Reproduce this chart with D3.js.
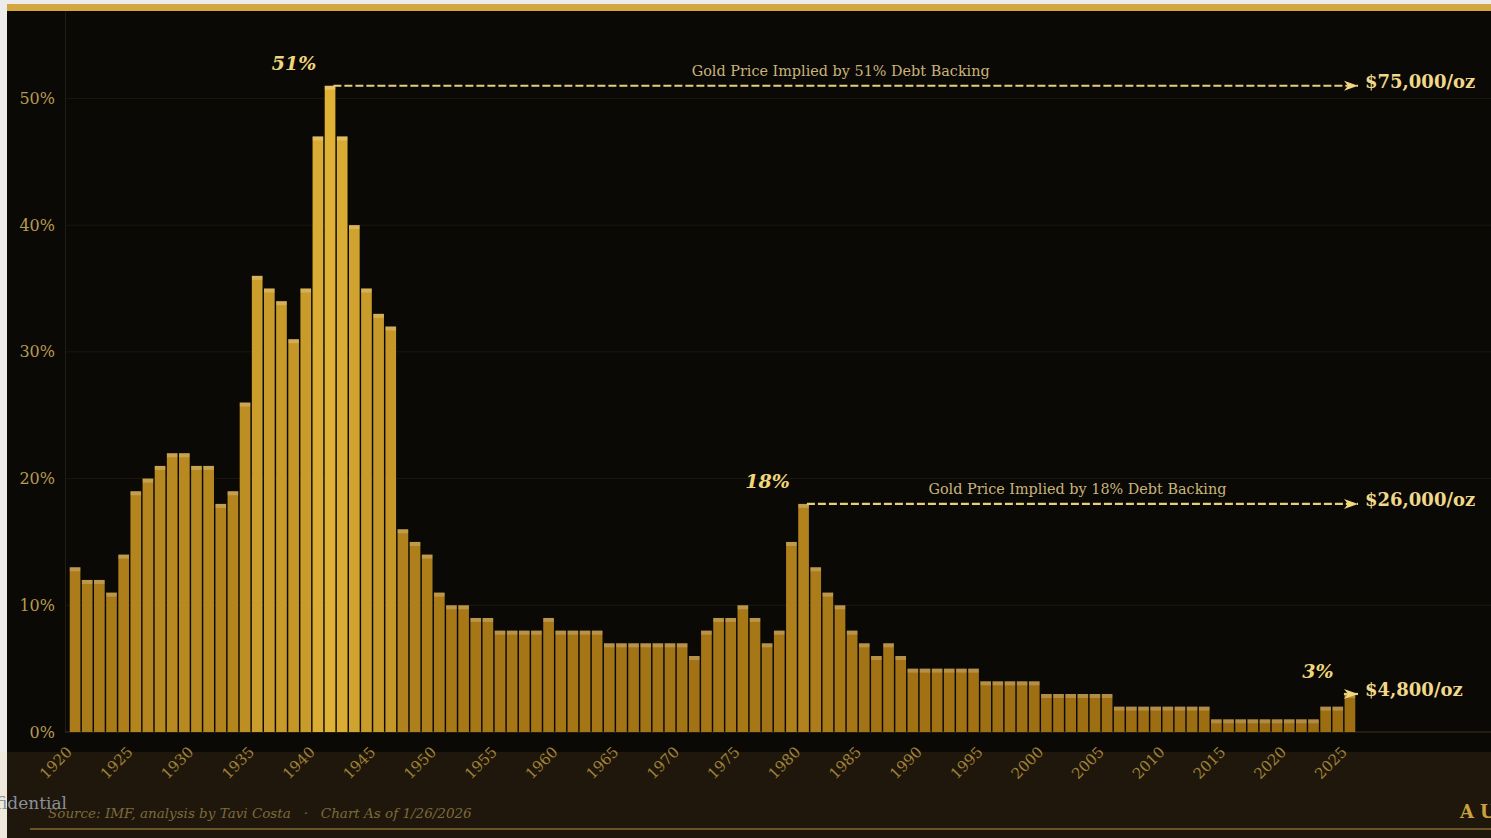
<!DOCTYPE html>
<html>
<head>
<meta charset="utf-8">
<script src="https://cdn.jsdelivr.net/npm/d3@7"></script>
<style>
  body { margin: 0; background: #ececec; overflow: hidden; }
  svg { display: block; }
  text { font-family: "DejaVu Serif", serif; }
</style>
</head>
<body>
<div id="chart"></div>
<script>

// Gold reserves as % of federal debt, 1920 - 2025
var years = d3.range(1920, 2026);
var backing = [
  13, 12, 12, 11, 14, 19, 20, 21, 22, 22,
  21, 21, 18, 19, 26, 36, 35, 34, 31, 35,
  47, 51, 47, 40, 35, 33, 32, 16, 15, 14,
  11, 10, 10, 9, 9, 8, 8, 8, 8, 9,
  8, 8, 8, 8, 7, 7, 7, 7, 7, 7,
  7, 6, 8, 9, 9, 10, 9, 7, 8, 15,
  18, 13, 11, 10, 8, 7, 6, 7, 6, 5,
  5, 5, 5, 5, 5, 4, 4, 4, 4, 4,
  3, 3, 3, 3, 3, 3, 2, 2, 2, 2,
  2, 2, 2, 2, 1, 1, 1, 1, 1, 1,
  1, 1, 1, 2, 2, 3
];
var tickYears = d3.range(1920, 2026, 5);
var yTicks = [0, 10, 20, 30, 40, 50];

// callouts
var calloutYears = [1941, 1980, 2025];
var calloutPrices = ["$75,000/oz", "$26,000/oz", "$4,800/oz"];
var calloutTitles = ["Gold Price Implied by 51% Debt Backing", "Gold Price Implied by 18% Debt Backing", ""];

var svgWidth = 1491;
var svgHeight = 838;

var plot = { left: 65, right: 1491, top: 11, bottom: 732 };

var svg = d3.select("#chart")
  .append("svg")
  .attr("width", svgWidth)
  .attr("height", svgHeight);

var data = years.map(function (y, i) { return { year: y, value: backing[i] }; });

// backgrounds
svg.append("rect").attr("x", 7).attr("y", 4).attr("width", svgWidth - 7).attr("height", 7).attr("fill", "#d4a640");
svg.append("rect").attr("x", 7).attr("y", 11).attr("width", svgWidth - 7).attr("height", 741).attr("fill", "#0a0906");
svg.append("rect").attr("x", 0).attr("y", 752).attr("width", 7).attr("height", 86).attr("fill", "#efe9dc");
svg.append("rect").attr("x", 7).attr("y", 752).attr("width", svgWidth - 7).attr("height", 86).attr("fill", "#1f170b");
svg.append("line")
  .attr("x1", 30).attr("x2", svgWidth)
  .attr("y1", 829).attr("y2", 829)
  .attr("stroke", "#6b5526").attr("stroke-width", 2);

// scales
var xScale = d3.scaleBand()
  .domain(years)
  .range([69, 1356])
  .paddingInner(0.12)
  .paddingOuter(0.06);

var yScale = d3.scaleLinear()
  .domain([0, 56.9])
  .range([plot.bottom, plot.top]);

var barColor = d3.scaleLinear()
  .domain([0, 51])
  .range(["#9a6a10", "#dfb236"]);

// gridlines
svg.append("g")
  .selectAll("line")
  .data(yTicks.slice(1))
  .enter()
  .append("line")
  .attr("x1", plot.left).attr("x2", plot.right)
  .attr("y1", d => yScale(d)).attr("y2", d => yScale(d))
  .attr("stroke", "#1c1810")
  .attr("stroke-width", 1);

// y axis
var leftAxis = d3.axisLeft(yScale)
  .tickValues(yTicks)
  .tickSize(0)
  .tickPadding(10)
  .tickFormat(d => d + "%");

var yAxisG = svg.append("g")
  .attr("transform", `translate(${plot.left}, 0)`)
  .call(leftAxis);
yAxisG.select(".domain").attr("stroke", "#221d12");
yAxisG.selectAll("text")
  .attr("fill", "#b89a50")
  .attr("font-size", 16)
  .attr("font-family", "DejaVu Serif");

// baseline
svg.append("line")
  .attr("x1", plot.left).attr("x2", plot.right)
  .attr("y1", plot.bottom).attr("y2", plot.bottom)
  .attr("stroke", "#3a301c");

// bars
var bars = svg.append("g")
  .selectAll("g")
  .data(data)
  .enter()
  .append("g");

bars.append("rect")
  .attr("x", d => xScale(d.year))
  .attr("y", d => yScale(d.value))
  .attr("width", xScale.bandwidth())
  .attr("height", d => yScale(0) - yScale(d.value))
  .attr("fill", d => barColor(d.value));

bars.append("rect")
  .attr("x", d => xScale(d.year))
  .attr("y", d => yScale(d.value))
  .attr("width", xScale.bandwidth())
  .attr("height", 4)
  .attr("fill", "#ffffff")
  .attr("opacity", 0.22);

// x tick labels
svg.append("g")
  .selectAll("text")
  .data(tickYears)
  .enter()
  .append("text")
  .attr("transform", d => `translate(${xScale(d) + xScale.bandwidth() / 2 - 2}, 753) rotate(-45)`)
  .attr("text-anchor", "end")
  .attr("fill", "#a08238")
  .attr("font-size", 15)
  .text(d => d);

// arrow marker
svg.append("defs").append("marker")
  .attr("id", "arrow")
  .attr("viewBox", "0 -6 14 12")
  .attr("refX", 14)
  .attr("refY", 0)
  .attr("markerWidth", 14)
  .attr("markerHeight", 12)
  .attr("markerUnits", "userSpaceOnUse")
  .attr("orient", "auto")
  .append("path")
  .attr("d", "M0,-5L14,0L0,5L4,0Z")
  .attr("fill", "#f0d880");

var arrowEnd = xScale.range()[1] + 2;
var labelShift = [-36, -36, -32];

calloutYears.forEach(function (yr, i) {
  var v = backing[years.indexOf(yr)];
  var cx = xScale(yr) + xScale.bandwidth() / 2;
  var cy = yScale(v);
  var startX = i < 2 ? xScale(yr) + xScale.bandwidth() - 2 : cx - 6;

  svg.append("line")
    .attr("x1", startX).attr("x2", arrowEnd)
    .attr("y1", cy).attr("y2", cy)
    .attr("stroke", "#e6cf78")
    .attr("stroke-width", 2.2)
    .attr("stroke-dasharray", i < 2 ? "8,3" : null)
    .attr("marker-end", "url(#arrow)");

  svg.append("text")
    .attr("x", cx + labelShift[i])
    .attr("y", cy - 16)
    .attr("text-anchor", "middle")
    .attr("font-size", 19)
    .attr("font-weight", "bold")
    .attr("font-style", "italic")
    .attr("fill", "#f0d67a")
    .text(v + "%");

  svg.append("text")
    .attr("x", arrowEnd + 7)
    .attr("y", cy - 3)
    .attr("dominant-baseline", "middle")
    .attr("font-size", 18)
    .attr("font-weight", "bold")
    .attr("fill", "#f0d88a")
    .text(calloutPrices[i]);

  if (calloutTitles[i]) {
    svg.append("text")
      .attr("x", (startX + arrowEnd) / 2 - 5)
      .attr("y", cy - 10)
      .attr("text-anchor", "middle")
      .attr("font-size", 14.4)
      .attr("fill", "#c9b47a")
      .text(calloutTitles[i]);
  }
});

// footer
svg.append("text")
  .attr("x", 48)
  .attr("y", 818)
  .attr("font-size", 13.5)
  .attr("font-style", "italic")
  .attr("fill", "#7d6a3c")
  .attr("xml:space", "preserve")
  .text("Source: IMF, analysis by Tavi Costa   ·   Chart As of 1/26/2026");

svg.append("text")
  .attr("x", 1460)
  .attr("y", 818)
  .attr("font-size", 18)
  .attr("font-weight", "bold")
  .attr("letter-spacing", 6)
  .attr("fill", "#c9a13e")
  .text("AU");

svg.append("text")
  .attr("x", 67)
  .attr("y", 809)
  .attr("text-anchor", "end")
  .attr("font-family", "Open Sans, sans-serif")
  .attr("font-size", 17)
  .attr("fill", "#8a8f99")
  .text("Confidential");

</script>
</body>
</html>
